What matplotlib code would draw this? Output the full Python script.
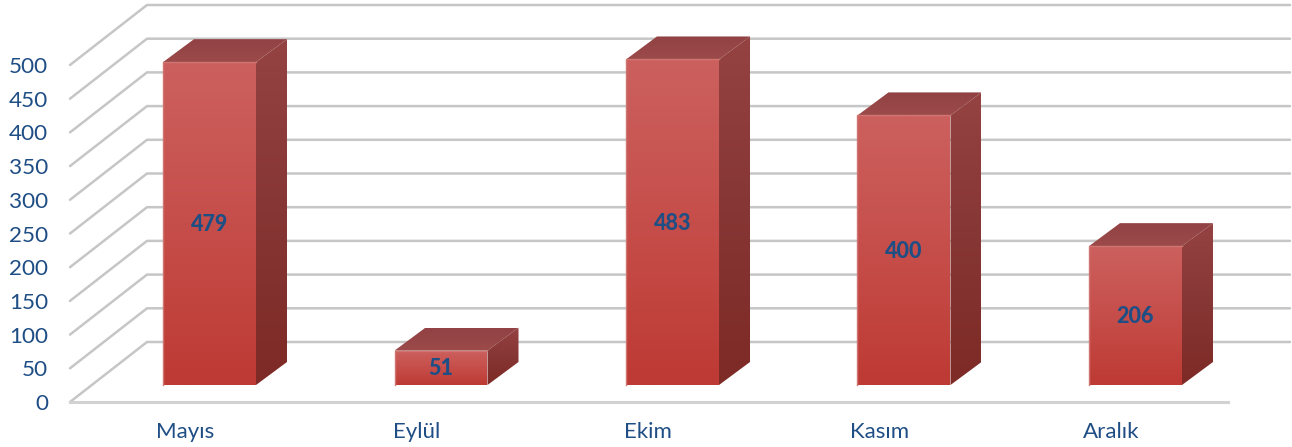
import matplotlib
matplotlib.use('Agg')
import matplotlib.pyplot as plt
import numpy as np
from matplotlib.patches import Polygon

plt.rcParams['font.family'] = ['Lato', 'DejaVu Sans']

months = ['Mayıs', 'Eylül', 'Ekim', 'Kasım', 'Aralık']
values = [479, 51, 483, 400, 206]
y_ticks = [0, 50, 100, 150, 200, 250, 300, 350, 400, 450, 500]

text_color = '#1F4E85'
grid_color = '#C6C6C6'

# pixels per unit on both axes
px_x = 231.5
px_y = 0.674
bar_width = 93 / px_x
bar_dx = 31 / px_x   # oblique depth of a bar
bar_dy = 23 / px_y

# wall and floor, relative to the plane of the bar fronts
wall_left = -139.5 / px_x
wall_dx = 77 / px_x
front_y = -17 / px_y
back_y = 43 / px_y
floor_right = 1018.5 / px_x
wall_right = 1080.5 / px_x

fig = plt.figure(figsize=(12.92, 4.47), dpi=100)
ax = fig.add_axes([0, 0, 1, 1])
ax.axis('off')


def gradient_face(corners, colors):
    """Fill a polygon with a vertical colour gradient."""
    corners = np.array(corners)
    poly = Polygon(corners, closed=True, fc='none', ec='none', transform=ax.transData)
    ax.add_patch(poly)
    grad = np.array(colors, dtype=float) / 255
    pos = np.linspace(0, 1, len(colors))
    t = np.linspace(0, 1, 64)
    img = np.stack([np.interp(t, pos, grad[:, c]) for c in range(3)], axis=1)[:, None, :]
    extent = [corners[:, 0].min(), corners[:, 0].max(), corners[:, 1].min(), corners[:, 1].max()]
    im = ax.imshow(img, extent=extent, origin='upper', aspect='auto', zorder=3, interpolation='bilinear')
    im.set_clip_path(poly)


# gridlines
for v in y_ticks:
    ax.plot([wall_left, wall_left + wall_dx, wall_right],
            [front_y + v, back_y + v, back_y + v], color=grid_color, lw=1.8, zorder=1,
            solid_joinstyle='miter', solid_capstyle='round')
    ax.text(wall_left - 22 / px_x, front_y + v - 2 / px_y, str(v), ha='right', va='center',
            fontsize=16.2, color=text_color)
ax.plot([wall_left, floor_right], [front_y, front_y], color='#D2D2D2', lw=2.2, zorder=1)

# bars
for i, (name, val) in enumerate(zip(months, values)):
    l = i - bar_width / 2
    r = i + bar_width / 2
    gradient_face([(l, val), (l + bar_dx, val + bar_dy), (r + bar_dx, val + bar_dy), (r, val)],
                  [(146, 66, 68), (156, 74, 74)])
    gradient_face([(r, 0), (r + bar_dx, bar_dy), (r + bar_dx, val + bar_dy), (r, val)],
                  [(148, 66, 66), (134, 54, 52), (126, 42, 38)])
    gradient_face([(l, 0), (l, val), (r, val), (r, 0)],
                  [(204, 96, 94), (198, 78, 74), (190, 58, 52)])
    ax.plot([l, l, r], [0, val, val], color='#CF7672', lw=1, zorder=4)
    ax.text(i, val / 2 - 1 / px_y, str(val), ha='center', va='center', fontsize=15.5, fontweight='black',
            color=text_color, zorder=5)
    ax.text(i - 24.5 / px_x, -46.5 / px_y, name, ha='center', va='center', fontsize=16,
            color=text_color)

ax.set_xlim(-209.5 / px_x, (1292 - 209.5) / px_x)
ax.set_ylim(-62 / px_y, 385 / px_y)

fig.savefig('out.png', dpi=100)
